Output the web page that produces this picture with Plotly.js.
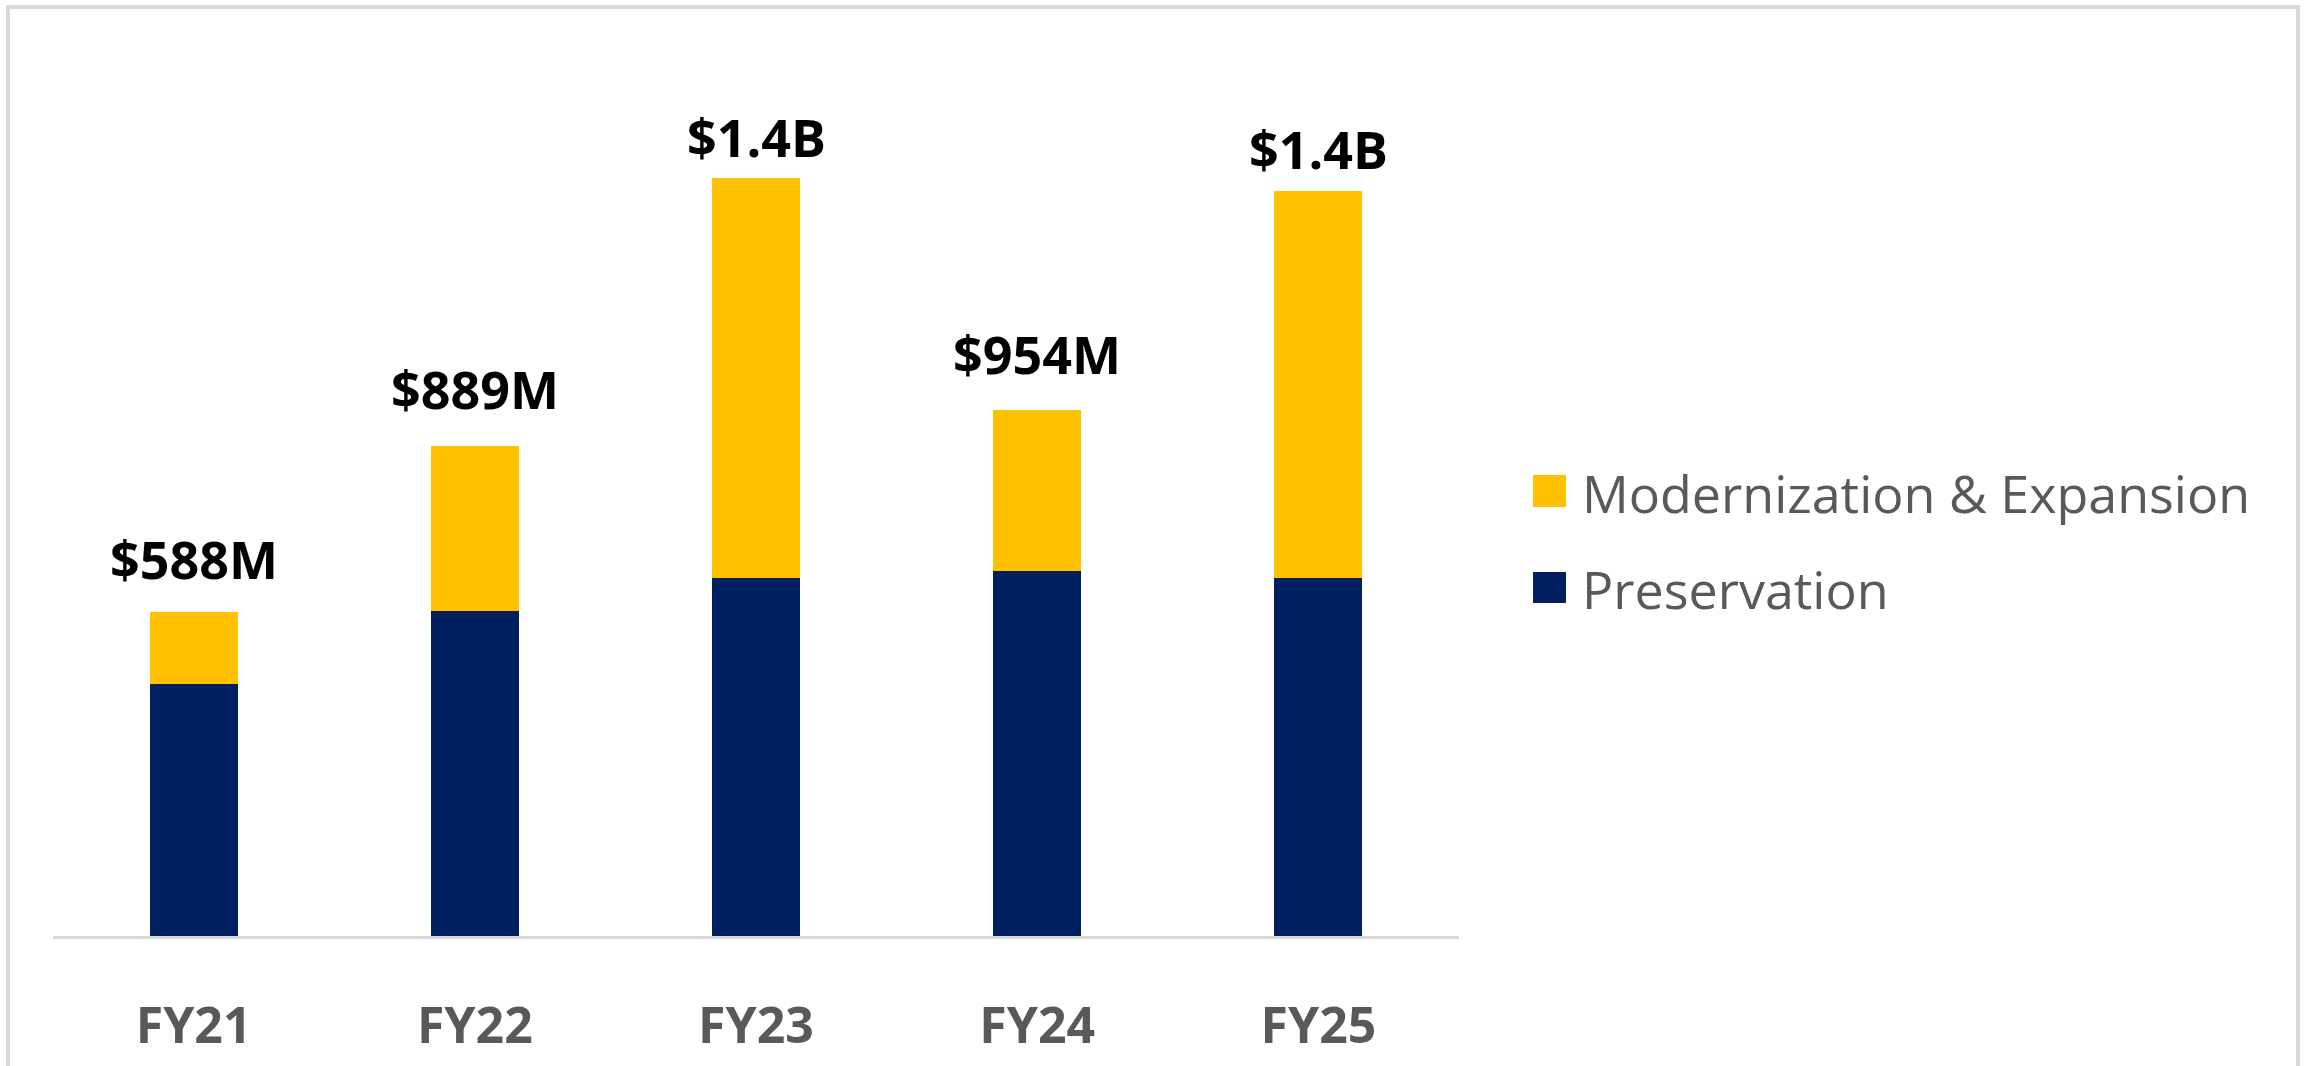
<!DOCTYPE html>
<html>
<head>
<meta charset="utf-8">
<script src="https://cdn.plot.ly/plotly-3.0.1.min.js"></script>
<style>
  html, body { margin: 0; padding: 0; background: #ffffff; }
  #chart { width: 2310px; height: 1066px; }
</style>
</head>
<body>
<div id="chart"></div>
<script>
// ---- Data ----
const categories = ['FY21', 'FY22', 'FY23', 'FY24', 'FY25'];
const preservation = [457, 589, 650, 662, 650];      // $M
const modernization = [131, 300, 725, 292, 701];     // $M
const totalLabels = ['$588M', '$889M', '$1.4B', '$954M', '$1.4B'];
const seriesNames = ['Modernization & Expansion', 'Preservation'];

// ---- Styling ----
const NAVY = '#002060';
const GOLD = '#FFC000';
const GREY_TEXT = '#595959';
const FONT = 'Open Sans, Noto Sans, Arial, sans-serif';

const W = 2310, H = 1066;
const M = { l: 53, r: 851, t: 109, b: 130 };
const plotW = W - M.l - M.r, plotH = H - M.t - M.b;
const px = x => (x - M.l) / plotW;          // page px -> paper x
const py = y => (H - M.b - y) / plotH;      // page px -> paper y

const totals = preservation.map((v, i) => v + modernization[i]);
const labelLift = [16, 20, 4, 19, 5];

const traces = [
  {
    type: 'bar', name: seriesNames[1], x: categories, y: preservation,
    marker: { color: NAVY, line: { width: 0 } }, hoverinfo: 'x+y+name'
  },
  {
    type: 'bar', name: seriesNames[0], x: categories, y: modernization,
    marker: { color: GOLD, line: { width: 0 } }, hoverinfo: 'x+y+name'
  }
];

const annotations = categories.map((c, i) => ({
  x: c, y: totals[i], xref: 'x', yref: 'y',
  text: '<b>' + totalLabels[i] + '</b>',
  showarrow: false, xanchor: 'center', yanchor: 'bottom', yshift: labelLift[i],
  font: { family: FONT, size: 52, color: '#000000' }
}));

// custom legend (large squares like the reference)
const legendItems = [
  { name: seriesNames[0], color: GOLD, top: 475, bottom: 507 },
  { name: seriesNames[1], color: NAVY, top: 572, bottom: 603 }
];
const shapes = [
  { type: 'rect', xref: 'paper', yref: 'paper', layer: 'below',
    x0: px(8), x1: px(2298), y0: py(1200), y1: py(7),
    line: { color: '#d9d9d9', width: 4 }, fillcolor: 'rgba(0,0,0,0)' }
];
legendItems.forEach(it => {
  shapes.push({ type: 'rect', xref: 'paper', yref: 'paper',
    x0: px(1533), x1: px(1566), y0: py(it.bottom), y1: py(it.top),
    line: { width: 0 }, fillcolor: it.color });
  annotations.push({ xref: 'paper', yref: 'paper', x: px(1580), y: py((it.top + it.bottom) / 2 + 1),
    xanchor: 'left', yanchor: 'middle', showarrow: false, text: it.name,
    font: { family: FONT, size: 52, color: GREY_TEXT } });
});

const layout = {
  width: W, height: H, autosize: false,
  margin: M,
  paper_bgcolor: '#ffffff', plot_bgcolor: '#ffffff',
  barmode: 'stack', bargap: 0.687,
  showlegend: false,
  font: { family: FONT, color: GREY_TEXT },
  xaxis: {
    type: 'category', showgrid: false, zeroline: false,
    showline: true, linecolor: '#d9d9d9', linewidth: 3,
    ticks: '', ticklabelstandoff: 44,
    tickfont: { family: FONT, size: 50, color: GREY_TEXT, weight: 700 }
  },
  yaxis: { range: [0, 1500], visible: false, showgrid: false, zeroline: false, fixedrange: true },
  annotations: annotations,
  shapes: shapes
};

Plotly.newPlot('chart', traces, layout, { staticPlot: true, displayModeBar: false });
</script>
</body>
</html>
